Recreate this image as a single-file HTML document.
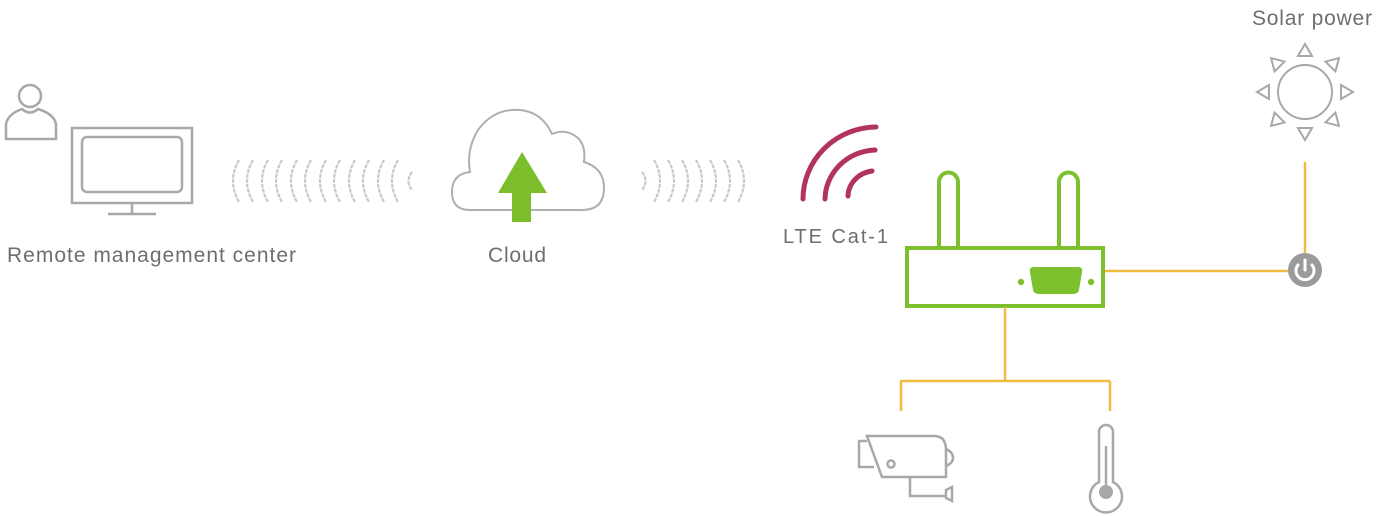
<!DOCTYPE html>
<html><head><meta charset="utf-8"><style>
html,body{margin:0;padding:0;background:#fff;}
svg{display:block;}
text{font-family:"Liberation Sans",sans-serif;fill:#6e6e6e;}
</style></head><body>
<svg width="1377" height="516" viewBox="0 0 1377 516" xmlns="http://www.w3.org/2000/svg">
<g fill="none" stroke="#a8a8a8" stroke-width="2.5">
  <circle cx="30" cy="96" r="11"/>
  <path d="M6,139 L6,124 Q8,114 22,109 Q30,116 38,109 Q54,114 56,124 L56,139 Z"/>
  <rect x="72" y="128" width="120" height="75"/>
  <rect x="82" y="137" width="100" height="55" rx="5"/>
  <path d="M132,203 V214 M108,214 H156"/>
</g>
<text x="7" y="262" font-size="21" textLength="289" lengthAdjust="spacing">Remote management center</text>

<g fill="none" stroke="#c9c9c9" stroke-width="2.2" stroke-dasharray="4 1">
  <path d="M239,160 Q227,181 239,202"/><path d="M253,160 Q241,181 253,202"/>
  <path d="M268,160 Q256,181 268,202"/><path d="M282,160 Q270,181 282,202"/>
  <path d="M297,160 Q285,181 297,202"/><path d="M311,160 Q299,181 311,202"/>
  <path d="M326,160 Q314,181 326,202"/><path d="M340,160 Q328,181 340,202"/>
  <path d="M355,160 Q343,181 355,202"/><path d="M369,160 Q357,181 369,202"/>
  <path d="M384,160 Q372,181 384,202"/><path d="M398,160 Q386,181 398,202"/>
  <path d="M412,172 Q405,181 412,190"/>
</g>

<path d="M470,210 Q452,210 452,192 Q452,174 470,172 Q466,150 478,130 Q494,108 520,110 Q542,112 552,134 Q566,128 578,138 Q586,146 584,162 Q604,168 604,188 Q604,210 582,210 Z" fill="none" stroke="#b0b0b0" stroke-width="2"/>
<path d="M522,152 L547,193 L531,193 L531,222 L512,222 L512,193 L498,193 Z" fill="#7cbd2b"/>
<text x="488" y="262" font-size="21" textLength="58" lengthAdjust="spacing">Cloud</text>

<g fill="none" stroke="#c9c9c9" stroke-width="2.2" stroke-dasharray="4 1">
  <path d="M642,172 Q649,181 642,190"/>
  <path d="M654,160 Q666,181 654,202"/><path d="M668,160 Q680,181 668,202"/>
  <path d="M682,160 Q694,181 682,202"/><path d="M696,160 Q708,181 696,202"/>
  <path d="M710,160 Q722,181 710,202"/><path d="M724,160 Q736,181 724,202"/>
  <path d="M738,160 Q750,181 738,202"/>
</g>

<g fill="none" stroke="#b3335f" stroke-width="5" stroke-linecap="round">
  <path d="M803,199 A74,72 0 0 1 876,127"/>
  <path d="M825,199 A52,50 0 0 1 875,150"/>
  <path d="M848,196 A28,26 0 0 1 872,171"/>
</g>
<text x="783" y="243" font-size="20" textLength="105" lengthAdjust="spacing">LTE Cat-1</text>

<g fill="none" stroke="#7cc12d" stroke-width="4">
  <path d="M939,248 V182 A9.5,9.5 0 0 1 958,182 V248"/>
  <path d="M1059,248 V182 A9.5,9.5 0 0 1 1078,182 V248"/>
  <rect x="907" y="248" width="196" height="58"/>
</g>
<path d="M1034,267 H1078 Q1083,267 1082,272 L1079,290 Q1078,294 1073,294 H1039 Q1034,294 1033,290 L1030,272 Q1029,267 1034,267 Z" fill="#7cc12d"/>
<circle cx="1021" cy="282" r="3.2" fill="#7cc12d"/>
<circle cx="1091" cy="282" r="3.2" fill="#7cc12d"/>

<g fill="none" stroke="#f1bb42" stroke-width="2.5">
  <path d="M1105,271 H1292"/>
  <path d="M1305,162 V256"/>
  <path d="M1005,307 V381 M900,381 H1110 M901,381 V411 M1110,381 V411"/>
</g>

<circle cx="1305" cy="270" r="17" fill="#9b9b9b"/>
<path d="M1298,265 A9,9 0 1 0 1312,265" fill="none" stroke="#fff" stroke-width="3" stroke-linecap="round"/>
<path d="M1305,260 V270" stroke="#fff" stroke-width="3" stroke-linecap="round"/>

<text x="1252" y="25" font-size="21" textLength="120" lengthAdjust="spacing">Solar power</text>
<g fill="none" stroke="#a8a8a8" stroke-width="2">
  <circle cx="1305" cy="92" r="27"/>
  <g transform="translate(1305,92)">
    <path d="M0,-48 L7,-36 L-7,-36 Z"/>
    <path d="M0,-48 L7,-36 L-7,-36 Z" transform="rotate(45)"/>
    <path d="M0,-48 L7,-36 L-7,-36 Z" transform="rotate(90)"/>
    <path d="M0,-48 L7,-36 L-7,-36 Z" transform="rotate(135)"/>
    <path d="M0,-48 L7,-36 L-7,-36 Z" transform="rotate(180)"/>
    <path d="M0,-48 L7,-36 L-7,-36 Z" transform="rotate(225)"/>
    <path d="M0,-48 L7,-36 L-7,-36 Z" transform="rotate(270)"/>
    <path d="M0,-48 L7,-36 L-7,-36 Z" transform="rotate(315)"/>
  </g>
</g>

<g fill="none" stroke="#a8a8a8" stroke-width="2.5">
  <path d="M867,441 H859 V467 H874"/>
  <path d="M867,436 H934 Q946,436 946,450 V477 H882 Z"/>
  <path d="M946,449 Q953,452 953,458 Q953,463 946,466"/>
  <circle cx="891" cy="464" r="3.5"/>
  <path d="M910,477 V496 H946 M946,490 L952,487 V501 L946,498 Z"/>
  <path d="M1099,482 V432 A7,7 0 0 1 1113,432 V482 A16,16 0 1 1 1099,482 Z"/>
  <path d="M1106,446 V485"/>
</g>
<circle cx="1106" cy="492" r="7" fill="#a8a8a8"/>
</svg>
</body></html>
